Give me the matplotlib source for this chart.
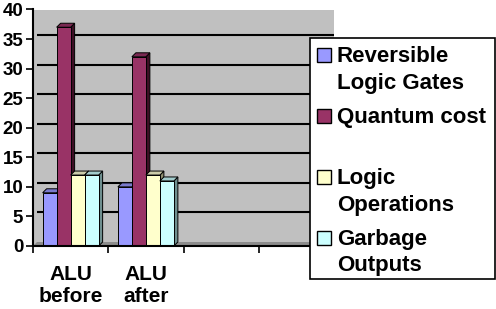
import numpy as np
import matplotlib
matplotlib.use('Agg')
import matplotlib.pyplot as plt
from matplotlib.patches import Rectangle, Polygon
from matplotlib.transforms import ScaledTranslation

categories = ['ALU\nbefore', 'ALU\nafter', '', '']
series = ['Reversible\nLogic Gates', 'Quantum cost\n', 'Logic\nOperations', 'Garbage\nOutputs']
values = [
    [9, 10],    # Reversible Logic Gates
    [37, 32],   # Quantum cost
    [12, 12],   # Logic Operations
    [12, 11],   # Garbage Outputs
]
colors = ['#9999ff', '#993366', '#ffffcc', '#ccffff']
side_colors = ['#55558f', '#3d0f24', '#8f8f70', '#6f8f8f']
top_colors = ['#7a7acc', '#7a2952', '#ccccaa', '#a3cccc']

plt.rcParams['font.family'] = ['Liberation Sans', 'DejaVu Sans']
plt.rcParams['font.weight'] = 'bold'

W, H = 496, 309
fig = plt.figure(figsize=(W / 100, H / 100), dpi=100)
ax = fig.add_axes([33 / W, (H - 246) / H, 301 / W, (246 - 9.5) / H])
ax.set_xlim(-0.5, 3.5)
ax.set_ylim(0, 40)
ax.set_facecolor('none')

# depth of the fake 3D look, in pixels
d = 4
shift = ScaledTranslation(d / 100, d / 100, fig.dpi_scale_trans)
dx = d * 4.0 / 301        # data units per pixel, x
dy = d * 40.0 / 236.5     # data units per pixel, y

# back wall and side wall
ax.add_patch(Rectangle((0, 0), 1, 1, transform=ax.transAxes + shift,
                       facecolor='#c0c0c0', edgecolor='none', zorder=0))
ax.add_patch(Rectangle((0, 0), 1, 1, transform=ax.transAxes,
                       facecolor='#c0c0c0', edgecolor='none', zorder=0))
# floor
ax.add_patch(Polygon([(-0.5, 0), (-0.5 + dx, dy), (3.5 + dx, dy), (3.5, 0)],
                     closed=True, facecolor='#8c8c8c', edgecolor='none',
                     zorder=0.5, clip_on=False))

# gridlines on the back wall
ax.hlines(np.arange(5, 40, 5), -0.5, 3.5, colors='black', lw=1.5,
          transform=ax.transData + shift, zorder=1)

x = np.arange(len(categories))
w = 14 / 75.25
for i, (name, vals) in enumerate(zip(series, values)):
    pos = x[:len(vals)] + (i - 1.5) * w
    for p, v in zip(pos, vals):
        x0, x1 = p - w / 2, p + w / 2
        ax.add_patch(Polygon([(x1, 0), (x1 + dx, dy), (x1 + dx, v + dy), (x1, v)],
                             closed=True, facecolor=side_colors[i],
                             edgecolor='black', lw=0.7, zorder=3 + i))
        ax.add_patch(Polygon([(x0, v), (x0 + dx, v + dy), (x1 + dx, v + dy), (x1, v)],
                             closed=True, facecolor=top_colors[i],
                             edgecolor='black', lw=0.7, zorder=3 + i))
    ax.bar(pos, vals, width=w, color=colors[i], edgecolor='black', lw=0.7,
           zorder=3 + i)

for s in ['top', 'right']:
    ax.spines[s].set_visible(False)
ax.spines['left'].set_linewidth(1.5)
ax.spines['bottom'].set_linewidth(1.5)
ax.spines['left'].set_zorder(10)
ax.spines['bottom'].set_zorder(10)

ax.set_yticks(np.arange(0, 41, 5))
ax.tick_params(axis='y', direction='out', length=5, width=1.2, pad=2,
               labelsize=13.5)
ax.set_xticks(x)
ax.set_xticklabels(categories, fontsize=15, linespacing=1.2)
ax.set_xticks(np.arange(-0.5, 4, 1), minor=True)
ax.tick_params(axis='x', which='major', length=0, pad=14)
ax.tick_params(axis='x', which='minor', direction='out', length=5, width=1.2)

# legend box drawn by hand to match the original layout
fig.patches.append(Rectangle((310 / W, (H - 279) / H), 185 / W, 241 / H,
                             transform=fig.transFigure, facecolor='white',
                             edgecolor='black', lw=1.2, zorder=20))
first_base = 62
for i, name in enumerate(series):
    base = first_base + i * 61
    fig.patches.append(Rectangle((317 / W, (H - base) / H), 14 / W, 14 / H,
                                 transform=fig.transFigure, facecolor=colors[i],
                                 edgecolor='black', lw=1, zorder=21))
    for j, line in enumerate(name.split('\n')):
        fig.text(337 / W, (H - base - j * 26.5) / H, line, fontsize=16,
                 va='baseline', ha='left', zorder=22)

fig.savefig('out.png', dpi=100)
